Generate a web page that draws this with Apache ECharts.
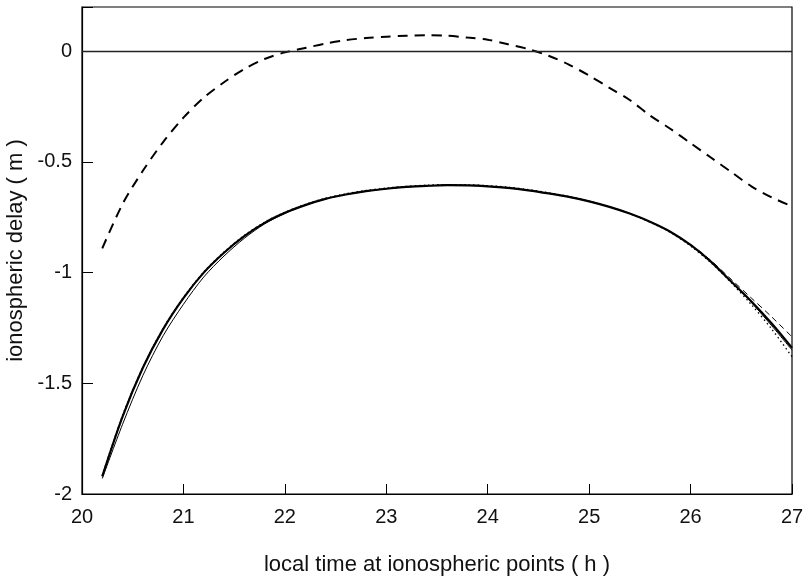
<!DOCTYPE html>
<html>
<head>
<meta charset="utf-8">
<script src="https://cdn.jsdelivr.net/npm/echarts@6/dist/echarts.min.js"></script>
<style>
  html, body { margin: 0; padding: 0; background: #fff; }
  #chart { width: 808px; height: 579px; }
</style>
</head>
<body>
<div id="chart"></div>
<script>
// local time (h), every 0.2 h
let hours = [20.2, 20.4, 20.6, 20.8, 21.0, 21.2, 21.4, 21.6, 21.8, 22.0, 22.2, 22.4, 22.6, 22.8, 23.0, 23.2, 23.4, 23.6,
             23.8, 24.0, 24.2, 24.4, 24.6, 24.8, 25.0, 25.2, 25.4, 25.6, 25.8, 26.0, 26.2, 26.4, 26.6, 26.8, 27.0];

// measured delay (thick dashed, upper curve)
let measured = [-0.89, -0.69, -0.54, -0.41, -0.30, -0.21, -0.14, -0.08, -0.035, -0.005, 0.015, 0.035, 0.05, 0.06, 0.066, 0.07, 0.072, 0.07,
                0.062, 0.052, 0.032, 0.01, -0.02, -0.06, -0.11, -0.165, -0.22, -0.29, -0.35, -0.415, -0.48, -0.545, -0.61, -0.66, -0.70];

// model curves (lower group)
let modelA = [-1.92, -1.65, -1.43, -1.255, -1.115, -1.0, -0.91, -0.835, -0.775, -0.73, -0.695, -0.667, -0.647, -0.632, -0.621, -0.613, -0.608, -0.605,
              -0.606, -0.61, -0.617, -0.628, -0.642, -0.658, -0.678, -0.703, -0.733, -0.77, -0.815, -0.875, -0.95, -1.04, -1.13, -1.23, -1.34];
let modelB = [-1.93, -1.685, -1.465, -1.285, -1.143, -1.02, -0.925, -0.845, -0.78, -0.732, -0.696, -0.667, -0.647, -0.632, -0.621, -0.613, -0.608, -0.605,
              -0.606, -0.61, -0.617, -0.628, -0.642, -0.658, -0.678, -0.703, -0.733, -0.77, -0.815, -0.875, -0.95, -1.04, -1.135, -1.24, -1.35];
let modelC = [-1.915, -1.645, -1.427, -1.252, -1.112, -0.997, -0.907, -0.832, -0.772, -0.727, -0.692, -0.664, -0.644, -0.629, -0.618, -0.61, -0.605, -0.602,
              -0.603, -0.607, -0.614, -0.625, -0.639, -0.656, -0.677, -0.703, -0.734, -0.772, -0.818, -0.88, -0.955, -1.045, -1.145, -1.255, -1.38];
let modelD = [-1.92, -1.65, -1.43, -1.255, -1.115, -1.0, -0.91, -0.835, -0.775, -0.73, -0.695, -0.667, -0.647, -0.632, -0.621, -0.613, -0.608, -0.605,
              -0.606, -0.61, -0.617, -0.628, -0.642, -0.658, -0.678, -0.703, -0.733, -0.77, -0.815, -0.873, -0.945, -1.03, -1.115, -1.2, -1.29];

let yTicks = [-2, -1.5, -1, -0.5, 0];

function pairs(ys) {
    return hours.map(function (h, i) { return [h, ys[i]]; });
}

let chart = echarts.init(document.getElementById('chart'));

let font = 'Liberation Sans, Arial, Helvetica, sans-serif';

let option = {
    backgroundColor: '#fff',
    animation: false,
    grid: {
        left: 82, right: 16, top: 7, bottom: 85,
        outerBoundsMode: 'none',
        show: true, borderColor: '#000', borderWidth: 1.2
    },
    xAxis: {
        type: 'value',
        min: 20, max: 27, interval: 1,
        name: 'local time at ionospheric points ( h )',
        nameLocation: 'middle',
        nameGap: 60,
        nameTextStyle: { fontSize: 22, color: '#111', fontFamily: font },
        axisLine: { onZero: false, lineStyle: { color: '#000', width: 1.2 } },
        axisTick: { inside: true, length: 10, lineStyle: { color: '#000' } },
        axisLabel: { fontSize: 20, color: '#111', margin: 13, fontFamily: font },
        splitLine: { show: false }
    },
    yAxis: {
        type: 'value',
        min: -2, max: 0.2, interval: 0.5,
        name: 'ionospheric delay ( m )',
        nameLocation: 'middle',
        nameGap: 52,
        nameTextStyle: { fontSize: 22, color: '#111', fontFamily: font },
        axisLine: { onZero: false, lineStyle: { color: '#000', width: 1.2 } },
        axisTick: { inside: true, length: 11, lineStyle: { color: '#000' } },
        axisLabel: {
            fontSize: 20, color: '#111', margin: 10, fontFamily: font,
            formatter: function (v) { return yTicks.indexOf(v) >= 0 ? String(v) : ''; }
        },
        splitLine: { show: false }
    },
    series: [
        {
            name: 'measured', type: 'line', data: pairs(measured),
            smooth: 0.3, showSymbol: false,
            lineStyle: { color: '#000', width: 2, type: [10, 7] },
            markLine: {
                silent: true, symbol: 'none', label: { show: false },
                lineStyle: { color: '#222', width: 1.3, type: 'solid' },
                data: [{ yAxis: 0 }]
            }
        },
        {
            name: 'model B', type: 'line', data: pairs(modelB),
            smooth: 0.3, showSymbol: false,
            lineStyle: { color: '#000', width: 1 }
        },
        {
            name: 'model C', type: 'line', data: pairs(modelC),
            smooth: 0.3, showSymbol: false,
            lineStyle: { color: '#000', width: 1.3, type: [1.5, 3] }
        },
        {
            name: 'model D', type: 'line', data: pairs(modelD),
            smooth: 0.3, showSymbol: false,
            lineStyle: { color: '#000', width: 1, type: [6, 4] }
        },
        {
            name: 'model A', type: 'line', data: pairs(modelA),
            smooth: 0.3, showSymbol: false,
            lineStyle: { color: '#000', width: 2.2 }
        }
    ]
};

chart.setOption(option);
</script>
</body>
</html>
